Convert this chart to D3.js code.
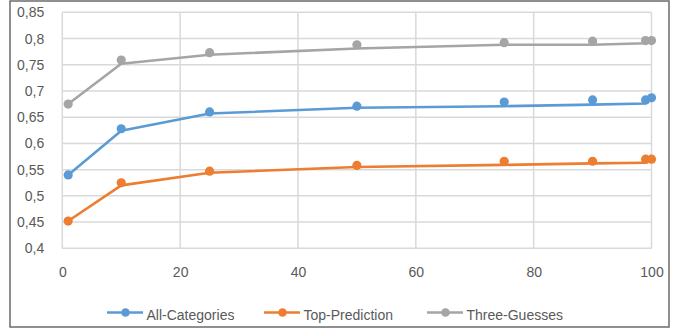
<!DOCTYPE html>
<html><head><meta charset="utf-8">
<script src="https://cdn.jsdelivr.net/npm/d3@7"></script>
<style>
html,body{margin:0;padding:0;background:#fff;}
svg{display:block;}
text{font-family:"Liberation Sans",Arial,sans-serif;fill:#595959;}
</style></head>
<body>
<svg id="c" width="683" height="331"></svg>
<script>
const xValues = [1, 10, 25, 50, 75, 90, 99, 100];
const allCategoriesPoints = [0.540, 0.628, 0.660, 0.671, 0.679, 0.683, 0.683, 0.687];
const allCategoriesLine   = [0.540, 0.624, 0.657, 0.668, 0.671, 0.674, 0.676, 0.685];
const topPredictionPoints = [0.452, 0.525, 0.547, 0.558, 0.566, 0.566, 0.570, 0.570];
const topPredictionLine   = [0.452, 0.520, 0.544, 0.555, 0.559, 0.562, 0.563, 0.568];
const threeGuessesPoints  = [0.675, 0.759, 0.773, 0.788, 0.792, 0.795, 0.796, 0.796];
const threeGuessesLine    = [0.675, 0.752, 0.769, 0.781, 0.788, 0.788, 0.791, 0.793];
const seriesNames = ["All-Categories", "Top-Prediction", "Three-Guesses"];
const xTicks = [0, 20, 40, 60, 80, 100];
const yTicks = [0.4, 0.45, 0.5, 0.55, 0.6, 0.65, 0.7, 0.75, 0.8, 0.85];

const colors = ["#5b9bd5", "#ed7d31", "#a5a5a5"];
const series = [
  {name: seriesNames[0], pts: allCategoriesPoints, line: allCategoriesLine, color: colors[0]},
  {name: seriesNames[1], pts: topPredictionPoints, line: topPredictionLine, color: colors[1]},
  {name: seriesNames[2], pts: threeGuessesPoints, line: threeGuessesLine, color: colors[2]}
];

const svg = d3.select("#c");
svg.append("rect").attr("x",10).attr("y",1).attr("width",659).attr("height",326)
  .attr("fill","#fff").attr("stroke","#6b6b6b").attr("stroke-width",1.5);

const x = d3.scaleLinear().domain([0,100]).range([62.3, 651.5]);
const y = d3.scaleLinear().domain([0.4,0.85]).range([248.3, 12.3]);

const fmt = v => d3.format(".2~f")(v).replace(".", ",");

// gridlines
const g = svg.append("g");
g.selectAll("line.h").data(yTicks).join("line")
  .attr("x1", x(0)).attr("x2", x(100))
  .attr("y1", d=>y(d)).attr("y2", d=>y(d))
  .attr("stroke","#d9d9d9").attr("stroke-width",1.5);
g.selectAll("line.v").data(xTicks).join("line")
  .attr("y1", y(0.4)).attr("y2", y(0.85))
  .attr("x1", d=>x(d)).attr("x2", d=>x(d))
  .attr("stroke","#d9d9d9").attr("stroke-width",1.5);

// axes via d3
const yAxis = svg.append("g").attr("transform",`translate(${x(0)},0)`)
  .call(d3.axisLeft(y).tickValues(yTicks).tickFormat(fmt).tickSize(0).tickPadding(18));
yAxis.select(".domain").remove();
yAxis.selectAll("text").attr("font-size",14).attr("fill","#595959")
  .style("font-family","'Liberation Sans',Arial,sans-serif");

const xAxis = svg.append("g").attr("transform",`translate(0,${y(0.4)})`)
  .call(d3.axisBottom(x).tickValues(xTicks).tickFormat(d=>d).tickSize(0).tickPadding(19));
xAxis.select(".domain").remove();
xAxis.selectAll("text").attr("font-size",14).attr("fill","#595959")
  .style("font-family","'Liberation Sans',Arial,sans-serif");

// lines and points
const lineGen = d3.line().x(d=>x(d[0])).y(d=>y(d[1]));
series.forEach(s => {
  const ld = xValues.map((xv,i)=>[xv, s.line[i]]);
  svg.append("path").datum(ld).attr("d", lineGen)
    .attr("fill","none").attr("stroke", s.color).attr("stroke-width",2.6)
    .attr("stroke-linejoin","round").attr("stroke-linecap","round");
  svg.append("g").selectAll("circle").data(xValues.map((xv,i)=>[xv, s.pts[i]])).join("circle")
    .attr("cx", d=>x(d[0])).attr("cy", d=>y(d[1])).attr("r",4.6)
    .attr("fill", s.color);
});

// legend
const legendX = [107, 264, 427];
const leg = svg.append("g");
series.forEach((s,i) => {
  const lx = legendX[i];
  leg.append("line").attr("x1",lx).attr("x2",lx+36).attr("y1",312.5).attr("y2",312.5)
    .attr("stroke",s.color).attr("stroke-width",2.6);
  leg.append("circle").attr("cx",lx+18.5).attr("cy",312.5).attr("r",4.3).attr("fill",s.color);
  leg.append("text").attr("x",lx+39.5).attr("y",320).attr("font-size",14).text(s.name);
});
</script>
</body></html>
